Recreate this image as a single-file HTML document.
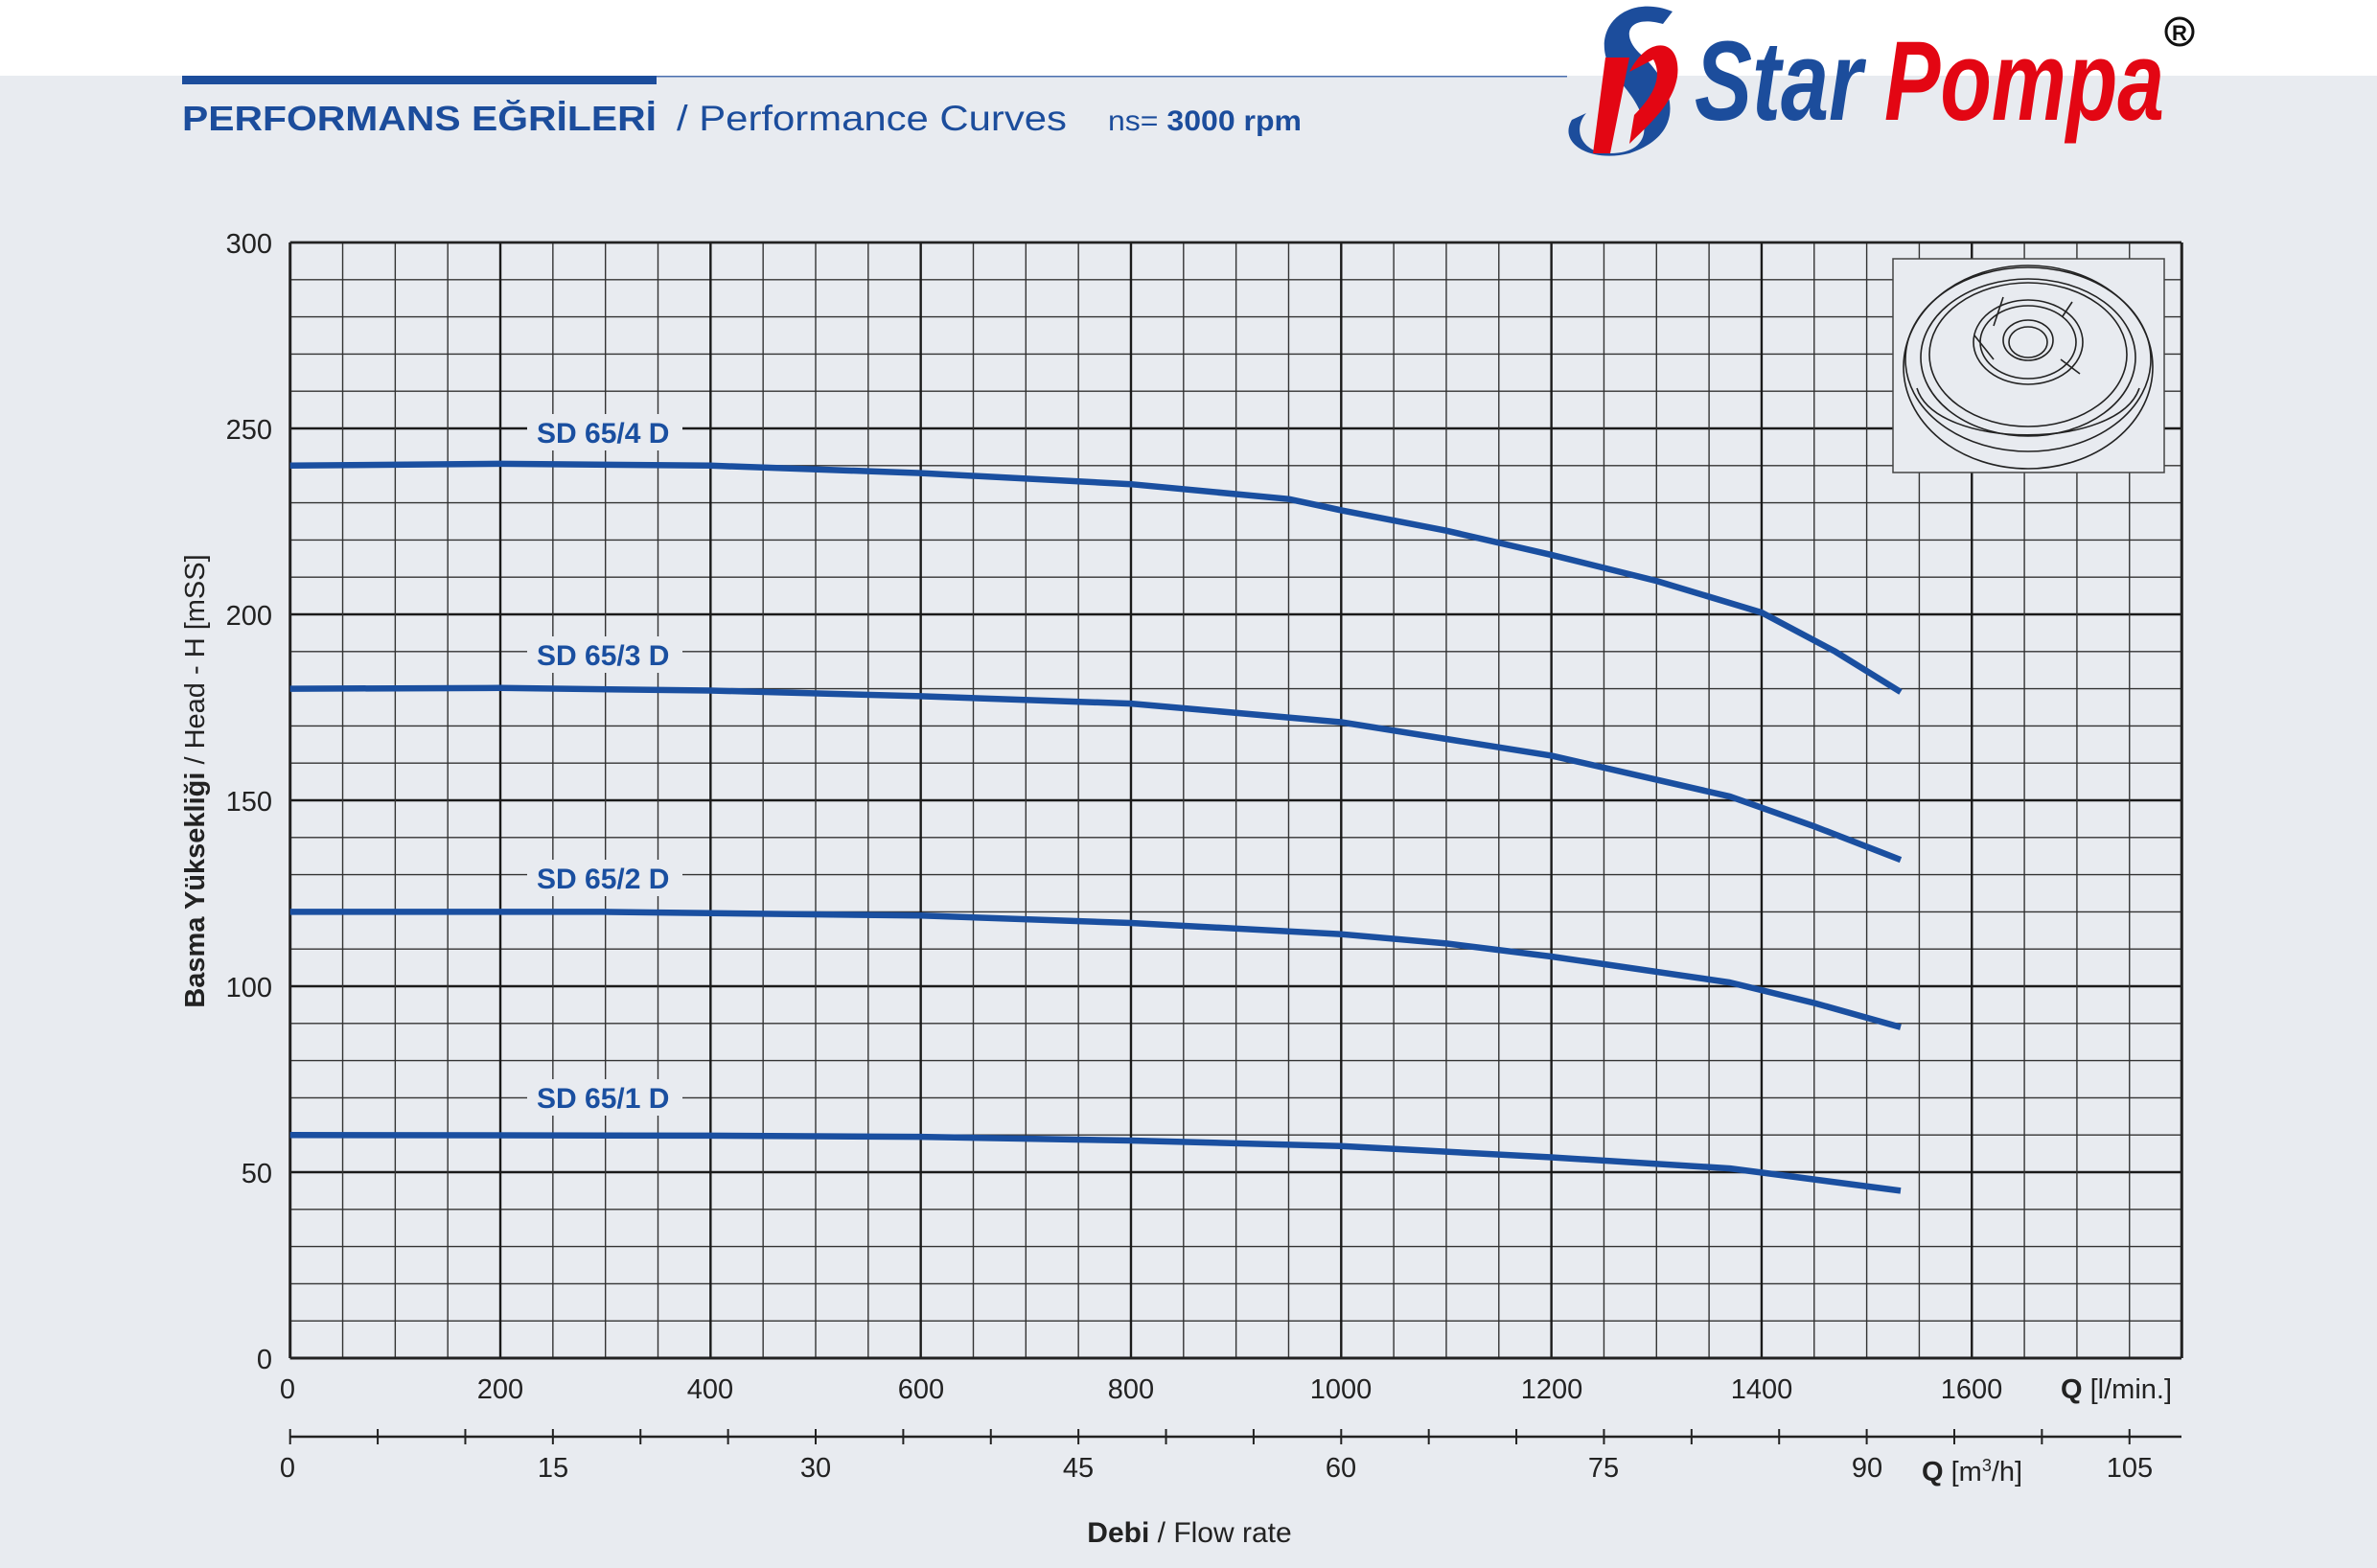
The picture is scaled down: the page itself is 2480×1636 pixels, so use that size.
<!DOCTYPE html>
<html><head><meta charset="utf-8"><style>
html,body{margin:0;padding:0;background:#e8ebf0;}
svg{display:block;}
</style></head><body>
<svg id="s" width="2480" height="1636" viewBox="0 0 2480 1636" xmlns="http://www.w3.org/2000/svg" font-family="'Liberation Sans', sans-serif">
<rect x="0" y="0" width="2480" height="1636" fill="#e8ebf0"/>
<rect x="0" y="0" width="2480" height="79" fill="#ffffff"/>
<rect x="190" y="79" width="495" height="9" fill="#1c4d9c"/>
<rect x="685" y="79" width="950" height="1.5" fill="#4a6fae"/>
<text x="190" y="136" font-size="36" font-weight="bold" fill="#1c4d9c" textLength="495" lengthAdjust="spacingAndGlyphs">PERFORMANS EĞRİLERİ</text>
<text x="706" y="136" font-size="37" fill="#1c4d9c" textLength="407" lengthAdjust="spacingAndGlyphs">/ Performance Curves</text>
<text x="1156" y="136" font-size="30" fill="#1c4d9c" textLength="202" lengthAdjust="spacingAndGlyphs">ns= <tspan font-weight="bold">3000 rpm</tspan></text>
<!-- logo -->
<g>
<path d="M1745 12 C1690 -10 1650 40 1690 85 C1730 130 1720 160 1680 160 C1650 160 1640 135 1655 118 L1640 125 C1625 150 1660 170 1700 160 C1760 140 1750 90 1710 55 C1690 35 1700 15 1735 25 Z" fill="#1c4d9c"/>
<path d="M1675 60 L1700 60 L1680 160 L1662 160 Z" fill="#e30613"/>
<path d="M1700 75 C1720 35 1755 40 1750 80 C1745 110 1720 130 1700 150 L1705 120 C1725 100 1735 80 1725 62 Z" fill="#e30613"/>
<text x="1768" y="125" font-size="118" font-weight="bold" font-style="italic" fill="#1c4d9c" textLength="175" lengthAdjust="spacingAndGlyphs">Star</text>
<text x="1966" y="125" font-size="118" font-weight="bold" font-style="italic" fill="#e30613" textLength="292" lengthAdjust="spacingAndGlyphs">Pompa</text>
<circle cx="2274" cy="33" r="14" fill="none" stroke="#111" stroke-width="3"/>
<text x="2274" y="42" font-size="22" font-weight="bold" text-anchor="middle" fill="#111">R</text>
</g>
<g id="grid"></g>
<!-- impeller box -->
<rect x="1975" y="270" width="283" height="223" fill="#e8ebf0" stroke="#444" stroke-width="1.5"/>
<g fill="none" stroke="#222" stroke-width="1.6">
<ellipse cx="2116" cy="383" rx="130" ry="106"/>
<ellipse cx="2116" cy="375" rx="128" ry="96"/>
<ellipse cx="2116" cy="373" rx="112" ry="82"/>
<ellipse cx="2116" cy="370" rx="103" ry="75"/>
<ellipse cx="2116" cy="357" rx="57" ry="44"/>
<ellipse cx="2116" cy="357" rx="50" ry="38"/>
<ellipse cx="2116" cy="355" rx="26" ry="21"/>
<ellipse cx="2116" cy="357" rx="20" ry="16"/>
<path d="M2000 405 C2020 470 2210 470 2232 405"/>
<path d="M2080 340 L2090 310 M2152 330 L2162 315 M2080 375 L2060 350 M2150 375 L2170 390"/>
</g>
<!-- curves -->
<g fill="none" stroke="#1a4fa0" stroke-width="6.5" stroke-linejoin="round" stroke-linecap="butt">
<path d="M302.7 485.8 L522 483.9 L741.3 485.8 L960.7 493.6 L1180 505.2 L1344.5 520.7 L1399.3 532.4 L1509 553.7 L1618.6 578.9 L1728.3 606.1 L1838 639.1 L1914.7 679.8 L1983 722"/>
<path d="M302.7 718.6 L522 717.8 L741.3 720.5 L960.7 726.4 L1180 734.1 L1399.3 753.5 L1509 771 L1618.6 788.4 L1805 831.1 L1892.8 862.2 L1983 897.1"/>
<path d="M302.7 951.4 L631.7 951.4 L960.7 955.3 L1180 963 L1399.3 974.7 L1509 984.4 L1618.6 998 L1805 1025.1 L1892.8 1046.5 L1983 1071.7"/>
<path d="M302.7 1184.2 L741.3 1184.9 L960.7 1186.1 L1180 1190 L1399.3 1195.8 L1618.6 1207.5 L1805 1219.1 L1983 1242.4"/>
</g>
<g font-size="30" font-weight="bold" fill="#1a4fa0">
<rect x="550" y="432" width="162" height="38" fill="#e8ebf0"/>
<text x="560" y="462">SD 65/4 D</text>
<rect x="550" y="664" width="162" height="38" fill="#e8ebf0"/>
<text x="560" y="694">SD 65/3 D</text>
<rect x="550" y="897" width="162" height="38" fill="#e8ebf0"/>
<text x="560" y="927">SD 65/2 D</text>
<rect x="550" y="1126" width="162" height="38" fill="#e8ebf0"/>
<text x="560" y="1156">SD 65/1 D</text>
</g>
<!-- y tick labels -->
<g font-size="29" fill="#222" text-anchor="end">
<text x="284" y="264">300</text>
<text x="284" y="458">250</text>
<text x="284" y="652">200</text>
<text x="284" y="846">150</text>
<text x="284" y="1040">100</text>
<text x="284" y="1234">50</text>
<text x="284" y="1428">0</text>
</g>
<g font-size="29" fill="#222" text-anchor="middle">
<text x="300" y="1459">0</text>
<text x="522" y="1459">200</text>
<text x="741" y="1459">400</text>
<text x="961" y="1459">600</text>
<text x="1180" y="1459">800</text>
<text x="1399" y="1459">1000</text>
<text x="1619" y="1459">1200</text>
<text x="1838" y="1459">1400</text>
<text x="2057" y="1459">1600</text>
<text x="300" y="1541">0</text>
<text x="577" y="1541">15</text>
<text x="851" y="1541">30</text>
<text x="1125" y="1541">45</text>
<text x="1399" y="1541">60</text>
<text x="1673" y="1541">75</text>
<text x="1948" y="1541">90</text>
<text x="2222" y="1541">105</text>
</g>
<text x="2150" y="1459" font-size="29" fill="#222"><tspan font-weight="bold">Q</tspan> [l/min.]</text>
<text x="2005" y="1545" font-size="29" fill="#222"><tspan font-weight="bold">Q</tspan> [m<tspan font-size="18" dy="-10">3</tspan><tspan dy="10">/h]</tspan></text>
<text x="1241" y="1609" font-size="30" fill="#222" text-anchor="middle"><tspan font-weight="bold">Debi</tspan> / Flow rate</text>
<text transform="translate(213 815) rotate(-90)" font-size="29" fill="#222" text-anchor="middle"><tspan font-weight="bold">Basma Yüksekliği</tspan> / Head - H [mSS]</text>
<g id="ax2"></g>
</svg>
<script>
var NS="http://www.w3.org/2000/svg";
function L(g,x1,y1,x2,y2,w,c){var l=document.createElementNS(NS,"line");l.setAttribute("x1",x1);l.setAttribute("y1",y1);l.setAttribute("x2",x2);l.setAttribute("y2",y2);l.setAttribute("stroke",c);l.setAttribute("stroke-width",w);g.appendChild(l);}
var g=document.getElementById("grid");
var x0=302.7,k=1.0966,yb=1417,yt=253,xr=2276;
for(var h=0;h<=300;h+=10){var y=yb-h*3.88;L(g,x0,y,xr,y,h%50==0?2.4:1.4,h%50==0?"#1a1a1a":"#333");}
for(var q=0;q<=1800;q+=50){var x=x0+q*k;L(g,x,yt,x,yb,q%200==0?2.4:1.4,q%200==0?"#1a1a1a":"#333");}
L(g,x0,yb,xr,yb,3,"#222");L(g,x0,yt,xr,yt,2.5,"#222");L(g,x0,yt,x0,yb,3,"#222");L(g,xr,yt,xr,yb,2.5,"#222");
var a=document.getElementById("ax2");
L(a,x0,1499,xr,1499,2.5,"#222");
for(var m=0;m<=105;m+=5){var x=x0+m*1000/60*k;L(a,x,1491,x,1507,2,"#222");}
</script>
</body></html>
